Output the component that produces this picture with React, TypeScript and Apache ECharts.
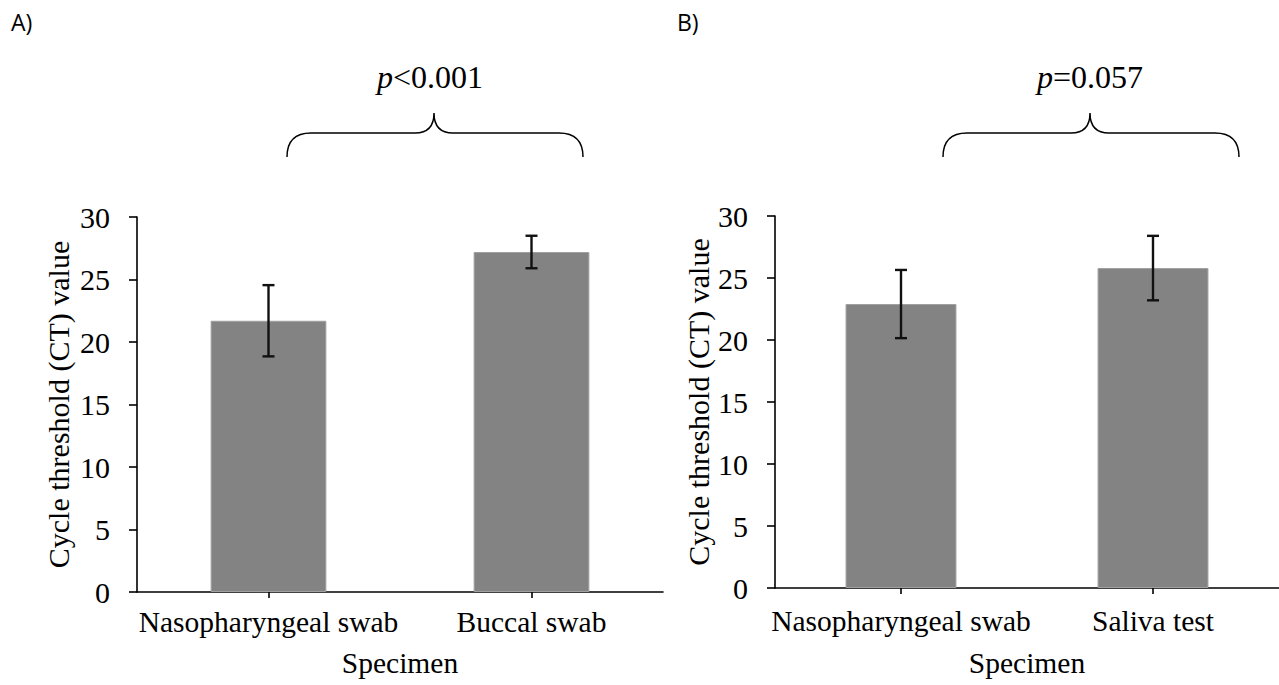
import React, { useEffect, useRef } from "react";
import * as echarts from "echarts";

const categoriesA = ["Nasopharyngeal swab", "Buccal swab"];
const meansA = [21.7, 27.2];
const errorsA = [2.85, 1.3];

const categoriesB = ["Nasopharyngeal swab", "Saliva test"];
const meansB = [22.9, 25.8];
const errorsB = [2.75, 2.6];

const yTicks = [0, 5, 10, 15, 20, 25, 30];
const pTextA = ["p", "<0.001"];
const pTextB = ["p", "=0.057"];
const yName = "Cycle threshold (CT) value";
const xName = "Specimen";

const BRACE_D =
  "M0,24 Q0,0 24,0 L128,0 Q147,0 147,-20 Q147,0 166,0 L272,0 Q296,0 296,24";

let registered = false;
function ensureShapes() {
  if (registered) return;
  echarts.graphic.registerShape("brace", echarts.graphic.extendPath(BRACE_D, {}));
  registered = true;
}

const SERIF = "Liberation Serif, Times New Roman, serif";

function errorRender(params: any, api: any) {
  const x = api.value(0);
  const m = api.value(1);
  const e = api.value(2);
  const top = api.coord([x, m + e]);
  const bot = api.coord([x, m - e]);
  const cap = 6;
  const st = { stroke: "#111", lineWidth: 2.4 };
  return {
    type: "group",
    children: [
      { type: "line", shape: { x1: top[0], y1: top[1], x2: bot[0], y2: bot[1] }, style: st },
      { type: "line", shape: { x1: top[0] - cap, y1: top[1], x2: top[0] + cap, y2: top[1] }, style: st },
      { type: "line", shape: { x1: bot[0] - cap, y1: bot[1], x2: bot[0] + cap, y2: bot[1] }, style: st },
    ],
  };
}

function xAxisCfg(cats: string[], idx: number, labelMargin: number, nameGap: number) {
  return {
    type: "category",
    gridIndex: idx,
    data: cats,
    boundaryGap: true,
    name: xName,
    nameLocation: "middle",
    nameGap,
    nameTextStyle: { fontFamily: SERIF, fontSize: 29.5, color: "#000" },
    axisLine: { show: true, lineStyle: { color: "#000", width: 1.6 } },
    axisTick: { show: true, alignWithLabel: true, length: 6, lineStyle: { color: "#000", width: 1.6 } },
    axisLabel: { fontFamily: SERIF, fontSize: 29.5, color: "#000", margin: labelMargin, interval: 0 },
    splitLine: { show: false },
  };
}

function yAxisCfg(idx: number, nameGap: number) {
  return {
    type: "value",
    gridIndex: idx,
    min: yTicks[0],
    max: yTicks[yTicks.length - 1],
    interval: yTicks[1] - yTicks[0],
    name: yName,
    nameLocation: "middle",
    nameGap,
    nameRotate: 90,
    nameTextStyle: { fontFamily: SERIF, fontSize: 30, color: "#000" },
    axisLine: { show: true, lineStyle: { color: "#000", width: 1.6 } },
    axisTick: { show: true, length: 8, lineStyle: { color: "#000", width: 1.6 } },
    axisLabel: { fontFamily: SERIF, fontSize: 30, color: "#000", margin: 27 },
    splitLine: { show: false },
  };
}

function pText(parts: string[], x: number, y: number) {
  return {
    type: "text",
    x,
    y,
    style: {
      text: `{i|${parts[0]}}{n|${parts[1]}}`,
      align: "center",
      verticalAlign: "middle",
      rich: {
        i: { fontFamily: SERIF, fontSize: 32, fontStyle: "italic", fill: "#000" },
        n: { fontFamily: SERIF, fontSize: 32, fill: "#000" },
      },
    },
  };
}

export default function App() {
  const ref = useRef<HTMLDivElement>(null);
  useEffect(() => {
    document.body.style.margin = "0";
    ensureShapes();
    const chart = echarts.init(ref.current!, null, { renderer: "svg" });
    const barStyle = { color: "#838383", borderColor: "#a0a0a0", borderWidth: 1 };
    chart.setOption({
      animation: false,
      backgroundColor: "#fff",
      grid: [
        { left: 137, top: 217, width: 526, height: 375 },
        { left: 775, top: 216, width: 512, height: 372 },
      ],
      xAxis: [xAxisCfg(categoriesA, 0, 15, 56), xAxisCfg(categoriesB, 1, 18, 60)],
      yAxis: [yAxisCfg(0, 64), yAxisCfg(1, 62)],
      series: [
        {
          type: "bar",
          xAxisIndex: 0,
          yAxisIndex: 0,
          data: meansA,
          barWidth: "44%",
          itemStyle: barStyle,
        },
        {
          type: "custom",
          xAxisIndex: 0,
          yAxisIndex: 0,
          data: meansA.map((m, i) => [i, m, errorsA[i]]),
          renderItem: errorRender,
          z: 5,
        },
        {
          type: "bar",
          xAxisIndex: 1,
          yAxisIndex: 1,
          data: meansB,
          barWidth: "44%",
          itemStyle: barStyle,
        },
        {
          type: "custom",
          xAxisIndex: 1,
          yAxisIndex: 1,
          data: meansB.map((m, i) => [i, m, errorsB[i]]),
          renderItem: errorRender,
          z: 5,
        },
      ],
      graphic: [
        {
          type: "text",
          x: 11,
          y: 22,
          style: { text: "A)", fontFamily: "Open Sans, Liberation Sans, Arial, sans-serif", fontSize: 23, fill: "#000", verticalAlign: "middle" },
        },
        {
          type: "text",
          x: 677,
          y: 22,
          style: { text: "B)", fontFamily: "Open Sans, Liberation Sans, Arial, sans-serif", fontSize: 23, fill: "#000", verticalAlign: "middle" },
        },
        pText(pTextA, 430, 77),
        pText(pTextB, 1090, 77),
        {
          type: "brace",
          x: 287,
          y: 133,
          style: { stroke: "#000", fill: "none", lineWidth: 1.5 },
        },
        {
          type: "brace",
          x: 943,
          y: 133,
          style: { stroke: "#000", fill: "none", lineWidth: 1.5 },
        },
      ],
    });
    return () => chart.dispose();
  }, []);
  return <div ref={ref} style={{ width: 1279, height: 685 }} />;
}
